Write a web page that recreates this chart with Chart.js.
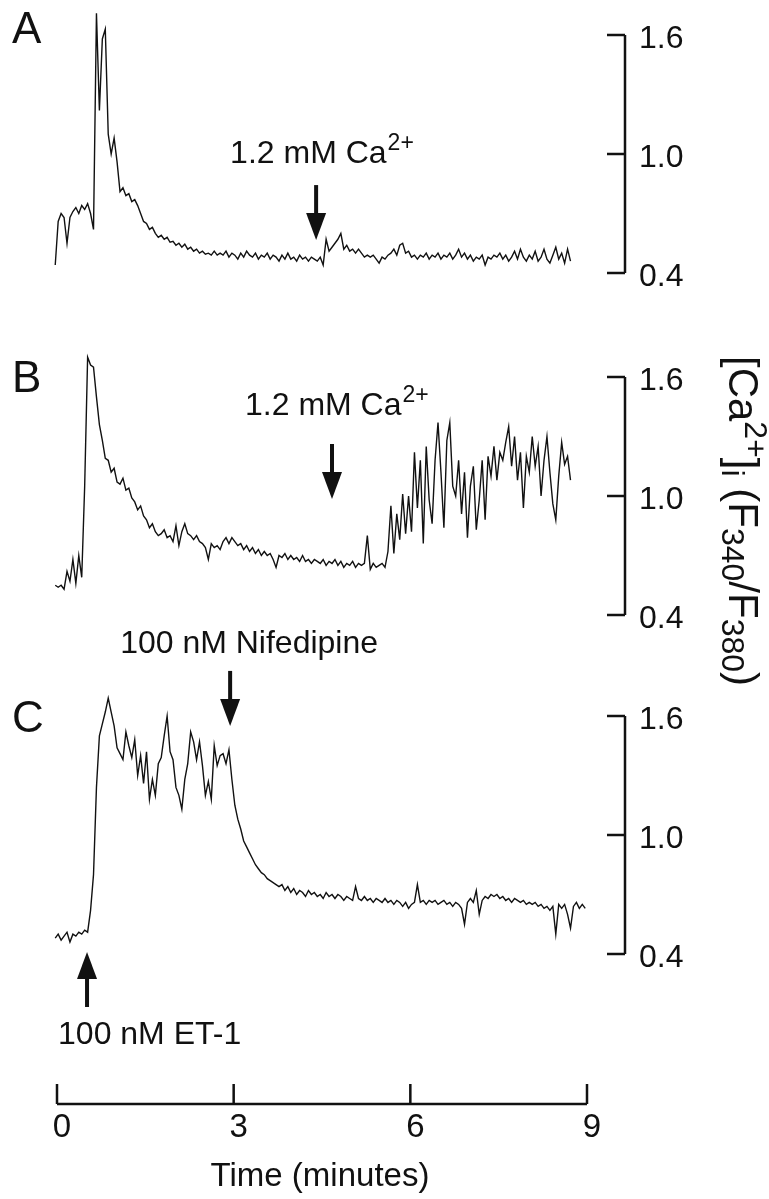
<!DOCTYPE html>
<html>
<head>
<meta charset="utf-8">
<script src="https://cdn.jsdelivr.net/npm/chart.js@4.4.0/dist/chart.umd.min.js"></script>
<style>
  html, body { margin: 0; padding: 0; background: #fff; }
</style>
</head>
<body>
<canvas id="traces" width="769" height="1199"></canvas>
<script>
// traces are sampled every 0.05 min, first sample slightly before t = 0
const sampleStart = -0.03;
const sampleStep = 0.05;

// A: 1.2 mM Ca2+ added after the transient
const ratioA = [
  0.44, 0.66, 0.70, 0.68, 0.55, 0.68, 0.71, 0.73, 0.70, 0.74,
  0.72, 0.75, 0.70, 0.62, 1.71, 1.22, 1.58, 1.63, 1.10, 1.00,
  1.08, 0.96, 0.81, 0.83, 0.79, 0.80, 0.76, 0.77, 0.74, 0.70,
  0.66, 0.65, 0.62, 0.63, 0.60, 0.58, 0.59, 0.57, 0.58, 0.555,
  0.56, 0.54, 0.55, 0.53, 0.545, 0.52, 0.53, 0.51, 0.52, 0.50,
  0.51, 0.495, 0.50, 0.49, 0.51, 0.49, 0.50, 0.49, 0.51, 0.48,
  0.50, 0.49, 0.47, 0.50, 0.48, 0.51, 0.49, 0.48, 0.50, 0.47,
  0.49, 0.48, 0.50, 0.47, 0.49, 0.48, 0.46, 0.49, 0.47, 0.50,
  0.47, 0.48, 0.46, 0.49, 0.47, 0.48, 0.46, 0.48, 0.47, 0.46,
  0.48, 0.44, 0.57, 0.51, 0.53, 0.55, 0.57, 0.60, 0.52, 0.54,
  0.51, 0.52, 0.50, 0.52, 0.50, 0.48, 0.49, 0.48, 0.49, 0.47,
  0.45, 0.48, 0.47, 0.49, 0.50, 0.52, 0.49, 0.54, 0.55, 0.50,
  0.51, 0.48, 0.49, 0.47, 0.49, 0.48, 0.50, 0.47, 0.49, 0.48,
  0.50, 0.47, 0.49, 0.48, 0.50, 0.47, 0.49, 0.52, 0.48, 0.50,
  0.47, 0.49, 0.46, 0.48, 0.47, 0.49, 0.44, 0.48, 0.47, 0.49,
  0.48, 0.50, 0.47, 0.49, 0.46, 0.48, 0.51, 0.47, 0.52, 0.48,
  0.46, 0.49, 0.47, 0.51, 0.46, 0.48, 0.52, 0.47, 0.45, 0.49,
  0.53, 0.47, 0.50, 0.45, 0.52, 0.46
];

// B: oscillations after Ca2+ re-addition
const ratioB = [
  0.55, 0.54, 0.55, 0.53, 0.62, 0.57, 0.68, 0.56, 0.70, 0.59,
  1.05, 1.70, 1.66, 1.65, 1.50, 1.36, 1.28, 1.19, 1.18, 1.12,
  1.14, 1.07, 1.06, 1.09, 1.03, 1.04, 0.99, 0.97, 0.93, 0.95,
  0.90, 0.88, 0.84, 0.86, 0.82, 0.80, 0.81, 0.83, 0.79, 0.80,
  0.77, 0.85, 0.75, 0.82, 0.86, 0.81, 0.80, 0.78, 0.80, 0.77,
  0.76, 0.74, 0.68, 0.76, 0.74, 0.75, 0.73, 0.77, 0.79, 0.76,
  0.79, 0.77, 0.75, 0.76, 0.73, 0.75, 0.72, 0.74, 0.71, 0.73,
  0.70, 0.72, 0.70, 0.71, 0.68, 0.64, 0.70, 0.69, 0.71, 0.68,
  0.70, 0.68, 0.69, 0.67, 0.70, 0.67, 0.68, 0.66, 0.68, 0.67,
  0.66, 0.68, 0.65, 0.67, 0.66, 0.68, 0.65, 0.67, 0.64, 0.66,
  0.65, 0.67, 0.64, 0.66, 0.65, 0.66, 0.80, 0.63, 0.66, 0.64,
  0.65, 0.66, 0.64, 0.72, 0.95, 0.71, 0.91, 0.78, 1.01, 0.81,
  1.00, 0.82, 1.22, 0.94, 1.18, 0.76, 1.25, 0.98, 0.86, 1.18,
  1.37, 1.12, 0.84, 1.28, 1.37, 1.05, 1.00, 1.18, 0.91, 1.12,
  0.79, 1.05, 1.15, 0.83, 0.98, 1.18, 0.88, 1.20, 1.10, 1.25,
  1.08, 1.22, 1.18, 1.27, 1.35, 1.15, 1.30, 1.08, 1.22, 0.94,
  1.20, 1.12, 1.30, 1.15, 1.25, 1.00, 1.18, 1.30, 1.12, 0.96,
  0.88, 1.10, 1.27, 1.16, 1.20, 1.08
];

// C: ET-1 then nifedipine
const ratioC = [
  0.48, 0.50, 0.47, 0.49, 0.51, 0.46, 0.50, 0.49, 0.51, 0.50,
  0.52, 0.51, 0.62, 0.80, 1.24, 1.50, 1.56, 1.62, 1.69, 1.62,
  1.55, 1.44, 1.41, 1.38, 1.52, 1.45, 1.39, 1.48, 1.30, 1.40,
  1.26, 1.42, 1.18, 1.28, 1.20, 1.36, 1.39, 1.50, 1.60, 1.42,
  1.38, 1.24, 1.20, 1.13, 1.28, 1.36, 1.52, 1.47, 1.38, 1.47,
  1.35, 1.20, 1.27, 1.18, 1.45, 1.35, 1.40, 1.41, 1.36, 1.43,
  1.28, 1.15, 1.08, 1.03, 0.97, 0.94, 0.91, 0.88, 0.85, 0.83,
  0.81, 0.80, 0.78, 0.77, 0.76, 0.75, 0.74, 0.75, 0.72, 0.74,
  0.71, 0.73, 0.70, 0.72, 0.71, 0.69, 0.72, 0.70, 0.71, 0.69,
  0.70, 0.68, 0.71, 0.69, 0.70, 0.68, 0.70, 0.69, 0.67, 0.69,
  0.68, 0.67, 0.74, 0.68, 0.67, 0.69, 0.67, 0.68, 0.66, 0.68,
  0.67, 0.66, 0.68, 0.66, 0.67, 0.65, 0.67, 0.66, 0.64, 0.66,
  0.63, 0.65, 0.66, 0.75, 0.66, 0.67, 0.65, 0.67, 0.66, 0.67,
  0.65, 0.66, 0.67, 0.65, 0.66, 0.64, 0.66, 0.65, 0.63, 0.55,
  0.66, 0.68, 0.66, 0.72, 0.60, 0.67, 0.69, 0.68, 0.70, 0.69,
  0.70, 0.68, 0.69, 0.67, 0.68, 0.66, 0.68, 0.67, 0.66, 0.67,
  0.65, 0.66, 0.65, 0.66, 0.64, 0.65, 0.63, 0.64, 0.62, 0.64,
  0.50, 0.65, 0.63, 0.65, 0.60, 0.53, 0.64, 0.66, 0.63, 0.65,
  0.63
];

const timeTicks = [0, 3, 6, 9];
const ratioTicks = [0.4, 1.0, 1.6];
const panelLetters = ['A', 'B', 'C'];

// page layout (pixels)
const W = 769, H = 1199;
const areaLeft = 15;
const areaBottom = 1104;          // time axis line
const areaRight = 625;            // ratio bracket line
const time0Px = 57, time9Px = 587;
const panelTopPx = [35, 377, 716]; // where 1.6 sits in each panel
const panelSpanPx = 238;          // 1.6 -> 0.4
const ink = '#111';
const FONT = '"Liberation Sans", Arial, Helvetica, sans-serif';

const pxPerMin = (time9Px - time0Px) / 9;
const xMin = -(time0Px - areaLeft) / pxPerMin;
const xMax = 9 + (areaRight - time9Px) / pxPerMin;

const toPoints = vals => vals.map((v, i) => ({ x: sampleStart + i * sampleStep, y: v }));

const arrows = [
  { axis: 'yA', t: 4.40, tip: 0.566, dir: 1, text: '1.2 mM Ca', sup: '2+', dx: -86, dy: -77 },
  { axis: 'yB', t: 4.67, tip: 0.985, dir: 1, text: '1.2 mM Ca', sup: '2+', dx: -87, dy: -84 },
  { axis: 'yC', t: 2.94, tip: 1.55, dir: 1, text: '100 nM Nifedipine', dx: -110, dy: -73 },
  { axis: 'yC', t: 0.51, tip: 0.41, dir: -1, text: '100 nM ET-1', dx: -29, dy: 92 }
];

function ratioAxis(i) {
  const perUnit = panelSpanPx / 1.2;
  const max = 1.6 + panelTopPx[i] / perUnit;
  const min = max - areaBottom / perUnit;
  return {
    type: 'linear',
    position: 'right',
    min: min,
    max: max,
    afterBuildTicks: s => { s.ticks = ratioTicks.map(v => ({ value: v })); },
    afterFit: s => { s.width = 0; s.paddingTop = 0; s.paddingBottom = 0; },
    grid: { display: false, drawTicks: false },
    border: { display: false },
    ticks: { display: false }
  };
}

function drawArrow(ctx, x, tipY, dir) {
  const len = 55, headH = 27, headW = 20;
  ctx.beginPath();
  ctx.lineWidth = 4;
  ctx.moveTo(x, tipY - dir * len);
  ctx.lineTo(x, tipY - dir * (headH - 2));
  ctx.stroke();
  ctx.beginPath();
  ctx.moveTo(x - headW / 2, tipY - dir * headH);
  ctx.lineTo(x + headW / 2, tipY - dir * headH);
  ctx.lineTo(x, tipY);
  ctx.closePath();
  ctx.fill();
}

const decorations = {
  id: 'decorations',
  afterDraw(chart) {
    const ctx = chart.ctx;
    const xs = chart.scales.x;
    const area = chart.chartArea;
    ctx.save();
    ctx.strokeStyle = ink;
    ctx.fillStyle = ink;

    // ratio brackets with inward ticks and their labels
    ['yA', 'yB', 'yC'].forEach((id, i) => {
      const s = chart.scales[id];
      const bx = area.right;
      ctx.lineWidth = 2.5;
      ctx.beginPath();
      ctx.moveTo(bx, s.getPixelForValue(ratioTicks[ratioTicks.length - 1]));
      ctx.lineTo(bx, s.getPixelForValue(ratioTicks[0]));
      ratioTicks.forEach(v => {
        const py = s.getPixelForValue(v);
        ctx.moveTo(bx - 18, py);
        ctx.lineTo(bx, py);
      });
      ctx.stroke();

      ctx.font = '32px ' + FONT;
      ctx.textAlign = 'left';
      ctx.textBaseline = 'middle';
      ratioTicks.forEach(v => {
        ctx.fillText(v.toFixed(1), bx + 14, s.getPixelForValue(v) + 4);
      });

      ctx.font = '44px ' + FONT;
      ctx.textBaseline = 'alphabetic';
      ctx.fillText(panelLetters[i], 12, s.getPixelForValue(1.6) + [8, 15, 16][i]);
    });

    // time axis with upward ticks
    const ay = area.bottom;
    ctx.lineWidth = 2.5;
    ctx.beginPath();
    ctx.moveTo(xs.getPixelForValue(timeTicks[0]), ay);
    ctx.lineTo(xs.getPixelForValue(timeTicks[timeTicks.length - 1]), ay);
    timeTicks.forEach(t => {
      const px = xs.getPixelForValue(t);
      ctx.moveTo(px, ay - 20);
      ctx.lineTo(px, ay);
    });
    ctx.stroke();

    // drug additions
    arrows.forEach(a => {
      const s = chart.scales[a.axis];
      const x = xs.getPixelForValue(a.t);
      const tipY = s.getPixelForValue(a.tip);
      drawArrow(ctx, x, tipY, a.dir);
      ctx.font = '32px ' + FONT;
      ctx.textAlign = 'left';
      ctx.textBaseline = 'alphabetic';
      const lx = x + a.dx, ly = tipY + a.dy;
      ctx.fillText(a.text, lx, ly);
      if (a.sup) {
        const w = ctx.measureText(a.text).width;
        ctx.font = '23px ' + FONT;
        ctx.fillText(a.sup, lx + w + 1, ly - 13);
      }
    });

    // rotated ratio label
    const parts = [
      ['[Ca', 0], ['2+', 1], [']', 0], ['i', -1], [' (F', 0],
      ['340', -1], ['/F', 0], ['380', -1], [')', 0]
    ];
    const big = '42px ' + FONT, small = '32px ' + FONT;
    let total = 0;
    parts.forEach(p => { ctx.font = p[1] ? small : big; total += ctx.measureText(p[0]).width; });
    ctx.translate(area.right + 116, 521);
    ctx.rotate(Math.PI / 2);
    ctx.textBaseline = 'middle';
    let cx = -total / 2;
    parts.forEach(p => {
      ctx.font = p[1] ? small : big;
      ctx.fillText(p[0], cx, p[1] === 1 ? -13 : (p[1] === -1 ? 10 : 0));
      cx += ctx.measureText(p[0]).width;
    });
    ctx.restore();
  }
};

const trace = (vals, axis) => ({
  data: toPoints(vals),
  yAxisID: axis,
  borderColor: ink,
  borderWidth: 1.4,
  pointRadius: 0,
  tension: 0,
  fill: false
});

new Chart(document.getElementById('traces').getContext('2d'), {
  type: 'line',
  data: {
    datasets: [trace(ratioA, 'yA'), trace(ratioB, 'yB'), trace(ratioC, 'yC')]
  },
  options: {
    responsive: false,
    animation: false,
    devicePixelRatio: 1,
    layout: { padding: { left: areaLeft, top: 0, bottom: 0, right: W - areaRight } },
    plugins: { legend: { display: false }, tooltip: { enabled: false } },
    scales: {
      x: {
        type: 'linear',
        position: 'bottom',
        min: xMin,
        max: xMax,
        afterBuildTicks: s => { s.ticks = timeTicks.map(v => ({ value: v })); },
        afterFit: s => { s.height = H - areaBottom; s.paddingLeft = 0; s.paddingRight = 0; },
        grid: { display: false, drawTicks: false },
        border: { display: false },
        ticks: {
          padding: 4,
          labelOffset: 5,
          maxRotation: 0,
          color: ink,
          font: { family: FONT, size: 33 },
          callback: v => String(v)
        },
        title: {
          display: true,
          text: 'Time (minutes)',
          color: ink,
          font: { family: FONT, size: 33 },
          padding: { top: 0, bottom: 2 }
        }
      },
      yA: ratioAxis(0),
      yB: ratioAxis(1),
      yC: ratioAxis(2)
    }
  },
  plugins: [decorations]
});
</script>
</body>
</html>
